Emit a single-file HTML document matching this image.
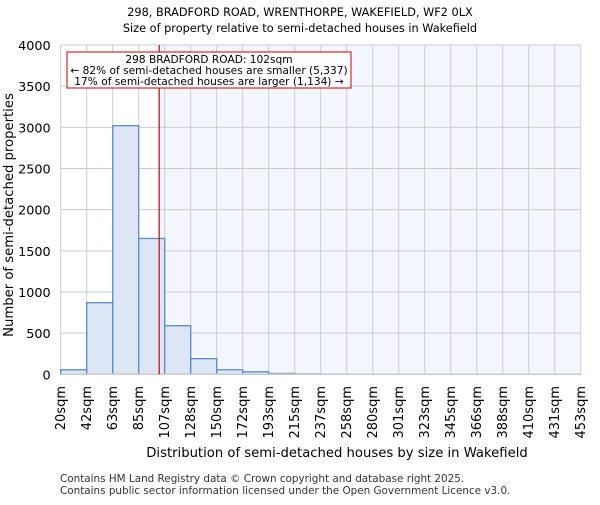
<!DOCTYPE html>
<html><head><meta charset="utf-8"><style>
body{margin:0;background:#fff;}
svg text{font-family:"DejaVu Sans","Liberation Sans",sans-serif;}
</style></head><body>
<svg width="600" height="500" xmlns="http://www.w3.org/2000/svg">
<text x="300" y="16" text-anchor="middle" font-size="11.3">298, BRADFORD ROAD, WRENTHORPE, WAKEFIELD, WF2 0LX</text>
<text x="300" y="32" text-anchor="middle" font-size="11.3">Size of property relative to semi-detached houses in Wakefield</text>
<g id="plot"></g>
<text x="337" y="457" text-anchor="middle" font-size="13.2">Distribution of semi-detached houses by size in Wakefield</text>
<text transform="translate(13,215) rotate(-90)" text-anchor="middle" font-size="13.2">Number of semi-detached properties</text>
<text x="60" y="482" font-size="10.4" fill="#333">Contains HM Land Registry data © Crown copyright and database right 2025.</text>
<text x="60" y="494" font-size="10.4" fill="#333">Contains public sector information licensed under the Open Government Licence v3.0.</text>
</svg>
<script>
const categories=["20sqm","42sqm","63sqm","85sqm","107sqm","128sqm","150sqm","172sqm","193sqm","215sqm","237sqm","258sqm","280sqm","301sqm","323sqm","345sqm","366sqm","388sqm","410sqm","431sqm","453sqm"];
const counts=[55,870,3020,1650,590,190,55,30,10,5,2,0,0,0,0,0,0,0,0,0];
const yTicks=[0,500,1000,1500,2000,2500,3000,3500,4000];
const propertySize=102;
const binStart=20, binWidth=21.65;
const NS="http://www.w3.org/2000/svg";
const g=document.getElementById('plot');
const L=60.7,R=580.7,T=45,B=374.3,yMax=4000;
const bw=(R-L)/counts.length;
const x=i=>L+i*bw;
const y=v=>B-(B-T)*v/yMax;
const xv=s=>L+(s-binStart)/binWidth*bw;
function mk(t,a){const e=document.createElementNS(NS,t);for(const k in a)e.setAttribute(k,a[k]);g.appendChild(e);return e;}
const rx=xv(propertySize);
let e=mk('rect',{x:rx,y:T,width:R-rx,height:B-T,fill:'#f3f6fd'});


yTicks.forEach(v=>{let l=mk('line',{x1:L,x2:R,y1:y(v),y2:y(v),stroke:'#ccc','stroke-width':1});


let t=mk('text',{x:L-10,y:y(v)+5,'text-anchor':'end','font-size':12.8});t.textContent=v;

});
categories.forEach((c,i)=>{let l=mk('line',{x1:x(i),x2:x(i),y1:T,y2:B,stroke:'#ccc','stroke-width':1});


let t=mk('text',{transform:`translate(${x(i)+4.5},386) rotate(-90)`,'text-anchor':'end','font-size':13});t.textContent=c;

});
counts.forEach((v,i)=>{if(v<=0)return;let r=mk('rect',{x:x(i),y:y(v),width:bw,height:B-y(v),fill:'#dce6f4',stroke:'#5b8bcc','stroke-width':1.3});

});
e=mk('line',{x1:L,x2:R,y1:B,y2:B,stroke:'#ccc','stroke-width':1.5});


e=mk('line',{x1:rx,x2:rx,y1:T,y2:B,stroke:'#c00','stroke-width':1.2});


e=mk('rect',{x:67,y:52,width:284,height:36,fill:'#fff',stroke:'#c00','stroke-width':1});


[["298 BRADFORD ROAD: 102sqm",63],["← 82% of semi-detached houses are smaller (5,337)",74],["17% of semi-detached houses are larger (1,134) →",85]].forEach(([s,yy])=>{let t=mk('text',{x:209,y:yy,'text-anchor':'middle','font-size':10.6});t.textContent=s;

});
</script>
</body></html>
